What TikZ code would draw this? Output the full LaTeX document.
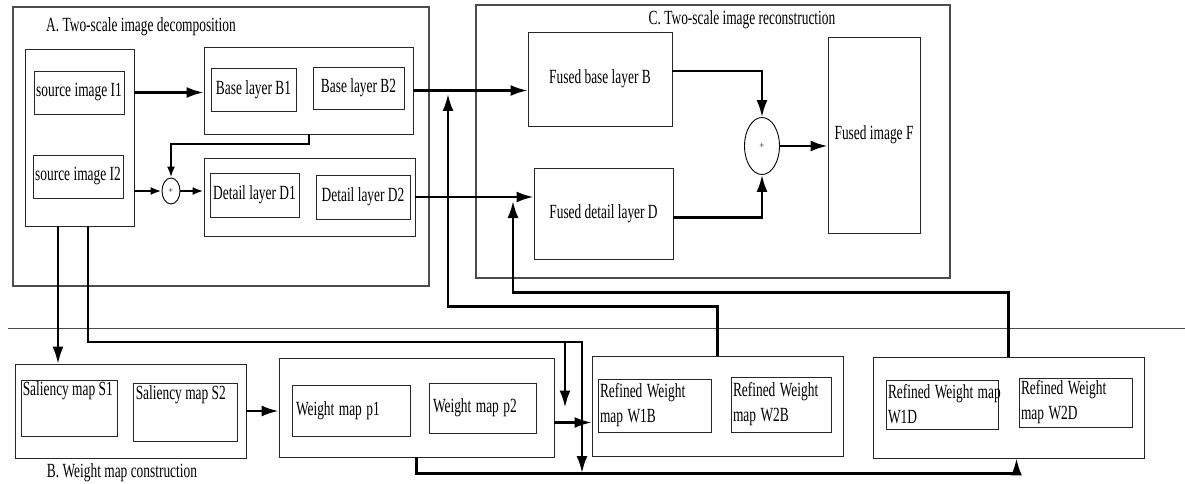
\documentclass[tikz,border=0pt]{standalone}
\usepackage{fontspec}
\setmainfont{Liberation Serif}
\usepackage{graphicx}
\usetikzlibrary{shapes.geometric, calc, arrows.meta}
\newcommand{\tx}[1]{\scalebox{1}[1.5]{#1}}

\begin{document}
\begin{tikzpicture}[x=1pt, y=-1pt, font=\fontsize{13.4}{25}\selectfont,
    frame/.style={draw=black!70, line width=1.1pt, inner sep=0pt},
    box/.style={draw=black!85, line width=0.9pt, inner sep=2pt},
    sum/.style={draw, ellipse, line width=0.9pt, inner sep=0pt, font=\fontsize{9}{9}\selectfont},
    conn/.style={-{Latex[length=17pt, width=11pt]}, line width=2.4pt},
    small/.style={-{Latex[length=11pt, width=8pt]}}]
    \useasboundingbox (0,0) rectangle (1185,484);

    \begin{scope}
        \node[frame, minimum width=416, minimum height=279] (secA) at (221,146.5) {};
        \node (titA) at (141,27) {\tx{A. Two-scale image decomposition}};
        \node[box, minimum width=109, minimum height=177] (src) at (79.5,137.5) {};
        \node[box, minimum width=90, minimum height=43] (i1) at (79,92.5) {\tx{source image I1}};
        \node[box, minimum width=90, minimum height=43] (i2) at (78,176.5) {\tx{source image I2}};
        \node[box, minimum width=209, minimum height=87] (base) at (308.5,90.5) {};
        \node[box, minimum width=85, minimum height=43] (b1) at (253.5,89.5) {\tx{Base layer B1}};
        \node[box, minimum width=91, minimum height=42] (b2) at (358.5,88) {\tx{Base layer B2}};
        \node[box, minimum width=211, minimum height=78] (det) at (309.5,197) {};
        \node[box, minimum width=89, minimum height=44] (d1) at (254.5,195) {\tx{Detail layer D1}};
        \node[box, minimum width=94, minimum height=44] (d2) at (363,197) {\tx{Detail layer D2}};
        \node[sum, minimum width=18, minimum height=26] (sum1) at (171,191) {+};
    \end{scope}

    \begin{scope}
        \node[frame, minimum width=474, minimum height=273] (secC) at (713,141.5) {};
        \node (titC) at (742,20) {\tx{C. Two-scale image reconstruction}};
        \node[box, minimum width=144, minimum height=94] (fb) at (600,79) {\tx{Fused base layer B}};
        \node[box, minimum width=139, minimum height=91] (fd) at (603.5,213.5) {\tx{Fused detail layer D}};
        \node[box, minimum width=92, minimum height=196] (ff) at (874,135) {\tx{Fused image F}};
        \node[sum, minimum width=35, minimum height=57] (sum2) at (762,146) {+};
    \end{scope}

    \draw[black!70, line width=1pt] (8,328) -- (1185,328);

    \begin{scope}
        \node[box, minimum width=231, minimum height=94] (sal) at (130.5,411) {};
        \node (titB) at (122,473) {\tx{B. Weight map construction}};
        \node[box, minimum width=96, minimum height=56,
            label={[anchor=north west, inner sep=2pt]north west:\tx{Saliency map S1}}] (s1) at (69,408) {};
        \node[box, minimum width=104, minimum height=58,
            label={[anchor=north west, inner sep=3pt]north west:\tx{Saliency map S2}}] (s2) at (185,412) {};
        \node[box, minimum width=275, minimum height=99] (wgt) at (416.5,407.5) {};
        \node[box, align=left, text width=110, inner xsep=4pt, minimum height=51] (p1) at (351,410.5) {\tx{Weight map p1}};
        \node[box, align=left, text width=99, inner xsep=4pt, minimum height=50] (p2) at (482.5,408) {\tx{Weight map p2}};
        \node[box, minimum width=251, minimum height=100] (rb) at (717.5,406) {};
        \node[box, align=left, text width=109, minimum height=53] (w1b) at (654.5,405.5) {\tx{Refined Weight}\\\tx{map W1B}};
        \node[box, align=left, text width=96, minimum height=55] (w2b) at (781,404.5) {\tx{Refined Weight}\\\tx{map W2B}};
        \node[box, minimum width=271, minimum height=101] (rd) at (1008.5,407.5) {};
        \node[box, align=left, text width=108, minimum height=49] (w1d) at (942,404.5) {\tx{Refined Weight map}\\\tx{W1D}};
        \node[box, align=left, text width=109, minimum height=49] (w2d) at (1075.5,402.5) {\tx{Refined Weight}\\\tx{map W2D}};
    \end{scope}

    \coordinate (tapA) at (58,226);
    \coordinate (tapB) at (88,226);
    \coordinate (bus) at (582,342);
    \coordinate (br) at (565,342);
    \coordinate (lowbus) at (582,473);
    \coordinate (tapBase) at (448,94);
    \coordinate (tapDet) at (513,201);

    \draw[conn] (i1 -| src.east) -- (i1 -| base.west);
    \draw[conn, small, line width=2pt] (base.south) -- ++(0,10) -| (sum1.north);
    \draw[conn, small] (sum1 -| src.east) -- (sum1.west);
    \draw[conn, small] (sum1.east) -- (sum1 -| det.west);
    \draw[conn] (base.east) -- (base.east -| fb.west);
    \draw[conn] (det.east) -- (det.east -| fd.west);
    \draw[conn] ($(fb.east)+(0,-8)$) -| (sum2.north);
    \draw[conn] ($(fd.east)+(0,4)$) -| (sum2.south);
    \draw[conn] (sum2.east) -- (sum2 -| ff.west);

    \draw[conn, line width=1.8pt] (tapA) -- (tapA |- sal.north);
    \draw[conn] (tapB) |- (bus) -- (lowbus);
    \draw[conn] (br) -- (br |- wgt.east);
    \draw[conn] (sal.east) -- (sal.east -| wgt.west);
    \draw[conn] ($(wgt.east)+(0,15)$) coordinate (wo) -- (wo -| rb.west);
    \draw[conn] (wgt.south) |- ++(0,16) -| ($(rd.south)+(8,0)$);
    \draw[conn] (rb.north) -- ++(0,-49) -| (tapBase);
    \draw[conn] (rd.north) -- ++(0,-64) -| (tapDet);
\end{tikzpicture}
\end{document}
